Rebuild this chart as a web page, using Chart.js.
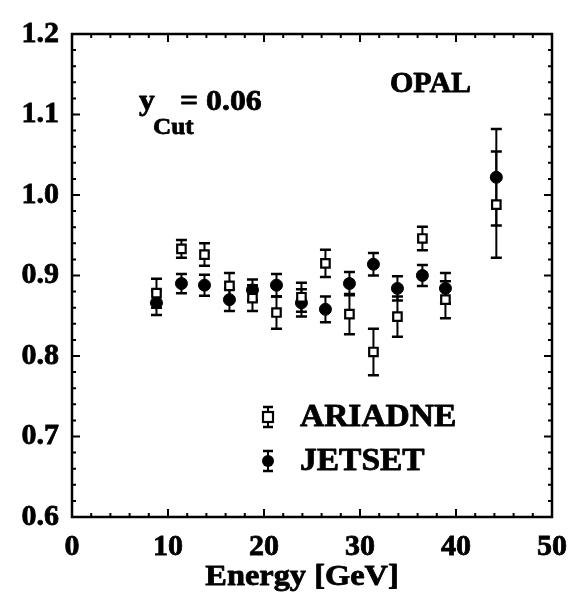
<!DOCTYPE html>
<html>
<head>
<meta charset="utf-8">
<title>OPAL y_Cut = 0.06</title>
<script src="https://cdn.jsdelivr.net/npm/chart.js@4/dist/chart.umd.min.js"></script>
<style>
  html, body { margin: 0; padding: 0; background: #fff; }
  canvas { display: block; }
</style>
</head>
<body>
<canvas id="c" width="579" height="607"></canvas>
<script>
// Centre-of-mass energies of the bins (GeV)
const energy = [8.8, 11.4, 13.8, 16.4, 18.8, 21.3, 23.9, 26.4, 28.9, 31.4, 33.9, 36.5, 38.9, 44.2];

// ARIADNE ratio and its uncertainty
const ariadne    = [0.878, 0.933, 0.926, 0.887, 0.872, 0.854, 0.873, 0.915, 0.852, 0.805, 0.849, 0.946, 0.870, 0.988];
const ariadneErr = [0.018, 0.011, 0.014, 0.016, 0.016, 0.020, 0.018, 0.017, 0.025, 0.029, 0.025, 0.0145, 0.023, 0.066];

// JETSET ratio and its uncertainty
const jetset    = [0.866, 0.890, 0.888, 0.870, 0.882, 0.888, 0.866, 0.858, 0.890, 0.914, 0.884, 0.900, 0.884, 1.022];
const jetsetErr = [0.015, 0.012, 0.013, 0.014, 0.013, 0.014, 0.017, 0.016, 0.0145, 0.014, 0.015, 0.013, 0.019, 0.060];

// Labelled ticks on both axes
const xTickValues = [0, 10, 20, 30, 40, 50];
const yTickValues = [0.6, 0.7, 0.8, 0.9, 1.0, 1.1, 1.2];

const X_TITLE = 'Energy [GeV]';
const SERIF = "'Liberation Serif', 'Times New Roman', serif";
const INK = '#000';

function points(xs, ys, es) {
  return xs.map((x, i) => ({ x: x, y: ys[i], err: es[i] }));
}

// Heavy, slightly widened lettering
function heavyText(ctx, text, x, y, size, widen, align) {
  ctx.save();
  ctx.font = 'bold ' + size + 'px ' + SERIF;
  ctx.textAlign = align || 'left';
  ctx.translate(x, y);
  ctx.scale(widen, 1);
  ctx.fillStyle = INK;
  ctx.strokeStyle = INK;
  ctx.lineWidth = 0.8;
  ctx.lineJoin = 'round';
  ctx.fillText(text, 0, 0);
  ctx.strokeText(text, 0, 0);
  ctx.restore();
}

// Vertical error bars with caps, drawn under the markers
const errorBars = {
  id: 'errorBars',
  beforeDatasetsDraw(chart) {
    const ctx = chart.ctx;
    const xs = chart.scales.x, ys = chart.scales.y;
    ctx.save();
    ctx.strokeStyle = INK;
    chart.data.datasets.forEach(ds => {
      ds.data.forEach(p => {
        const px = xs.getPixelForValue(p.x);
        const top = ys.getPixelForValue(p.y + p.err);
        const bot = ys.getPixelForValue(p.y - p.err);
        ctx.lineWidth = 2;
        ctx.beginPath();
        ctx.moveTo(px, top);
        ctx.lineTo(px, bot);
        ctx.stroke();
        ctx.lineWidth = 2.5;
        ctx.beginPath();
        ctx.moveTo(px - 5.5, top);
        ctx.lineTo(px + 5.5, top);
        ctx.moveTo(px - 5.5, bot);
        ctx.lineTo(px + 5.5, bot);
        ctx.stroke();
      });
    });
    ctx.restore();
  }
};

// Box frame with inward ticks on all four sides
const frameTicks = {
  id: 'frameTicks',
  afterDraw(chart) {
    const ctx = chart.ctx;
    const a = chart.chartArea;
    const xs = chart.scales.x, ys = chart.scales.y;
    ctx.save();
    ctx.strokeStyle = INK;
    ctx.lineWidth = 2.5;
    ctx.strokeRect(a.left, a.top, a.right - a.left, a.bottom - a.top);
    ctx.lineWidth = 2;
    ctx.beginPath();
    for (let k = 0; k <= 25; k++) {
      const v = k * 2;
      const px = xs.getPixelForValue(v);
      const len = (v % 10 === 0) ? 8 : 4;
      ctx.moveTo(px, a.bottom); ctx.lineTo(px, a.bottom - len);
      ctx.moveTo(px, a.top);    ctx.lineTo(px, a.top + len);
    }
    for (let k = 0; k <= 30; k++) {
      const v = 0.6 + k * 0.02;
      const py = ys.getPixelForValue(v);
      const len = (k % 5 === 0) ? 8 : 4;
      ctx.moveTo(a.left, py);  ctx.lineTo(a.left + len, py);
      ctx.moveTo(a.right, py); ctx.lineTo(a.right - len, py);
    }
    ctx.stroke();
    ctx.restore();
  }
};

// Axis title, experiment name, cut value and legend
const annotations = {
  id: 'annotations',
  afterDraw(chart) {
    const ctx = chart.ctx;
    ctx.save();
    ctx.textBaseline = 'alphabetic';

    heavyText(ctx, X_TITLE, 302, 585, 30, 1.08, 'center');
    heavyText(ctx, 'OPAL', 390, 92, 30, 1.0);
    heavyText(ctx, 'y', 139, 110, 30, 1.05);
    heavyText(ctx, 'Cut', 153, 134, 24, 1.05);
    heavyText(ctx, '= 0.06', 180, 110, 30, 1.06);

    // legend rows
    const rows = [
      { ds: chart.data.datasets[0], y: 417 },
      { ds: chart.data.datasets[1], y: 461 }
    ];
    rows.forEach(r => {
      const mx = 268;
      ctx.strokeStyle = INK;
      ctx.lineWidth = 2;
      ctx.beginPath();
      ctx.moveTo(mx, r.y - 10); ctx.lineTo(mx, r.y + 10);
      ctx.stroke();
      ctx.lineWidth = 2.5;
      ctx.beginPath();
      ctx.moveTo(mx - 5, r.y - 10); ctx.lineTo(mx + 5, r.y - 10);
      ctx.moveTo(mx - 5, r.y + 10); ctx.lineTo(mx + 5, r.y + 10);
      ctx.stroke();
      if (r.ds.pointStyle === 'rect') {
        ctx.fillStyle = '#fff';
        ctx.fillRect(mx - 5, r.y - 5, 10, 10);
        ctx.lineWidth = 2.2;
        ctx.strokeRect(mx - 5, r.y - 5, 10, 10);
      } else {
        ctx.fillStyle = INK;
        ctx.beginPath();
        ctx.arc(mx, r.y, 6, 0, Math.PI * 2);
        ctx.fill();
      }
      ctx.textBaseline = 'middle';
      heavyText(ctx, r.ds.label, 300, r.y + 1, 31, 1.08);
      ctx.textBaseline = 'alphabetic';
    });
    ctx.restore();
  }
};

new Chart(document.getElementById('c'), {
  type: 'scatter',
  data: {
    datasets: [
      {
        label: 'ARIADNE',
        data: points(energy, ariadne, ariadneErr),
        pointStyle: 'rect',
        pointRadius: 6,
        pointBackgroundColor: '#fff',
        pointBorderColor: INK,
        pointBorderWidth: 2.2,
        showLine: false
      },
      {
        label: 'JETSET',
        data: points(energy, jetset, jetsetErr),
        pointStyle: 'circle',
        pointRadius: 6,
        pointBackgroundColor: INK,
        pointBorderColor: INK,
        pointBorderWidth: 1,
        showLine: false
      }
    ]
  },
  options: {
    responsive: false,
    animation: false,
    devicePixelRatio: 1,
    layout: { padding: { left: 0, right: 22, top: 34, bottom: 0 } },
    plugins: {
      legend: { display: false },
      tooltip: { enabled: false }
    },
    scales: {
      x: {
        type: 'linear',
        min: 0,
        max: 50,
        afterFit(s) { s.height = 90; },
        afterBuildTicks(s) { s.ticks = xTickValues.map(v => ({ value: v })); },
        grid: { display: false, drawTicks: false },
        border: { display: false },
        ticks: {
          color: INK,
          padding: 12,
          textStrokeColor: INK,
          textStrokeWidth: 0.8,
          font: { family: SERIF, size: 30, weight: 'bold' },
          callback: v => String(v)
        },
        title: { display: false }
      },
      y: {
        type: 'linear',
        min: 0.6,
        max: 1.2,
        afterFit(s) { s.width = 72; },
        afterBuildTicks(s) { s.ticks = yTickValues.map(v => ({ value: v })); },
        grid: { display: false, drawTicks: false },
        border: { display: false },
        ticks: {
          color: INK,
          padding: 13,
          textStrokeColor: INK,
          textStrokeWidth: 0.8,
          font: { family: SERIF, size: 30, weight: 'bold' },
          callback: v => Number(v).toFixed(1)
        }
      }
    }
  },
  plugins: [errorBars, frameTicks, annotations]
});
</script>
</body>
</html>
